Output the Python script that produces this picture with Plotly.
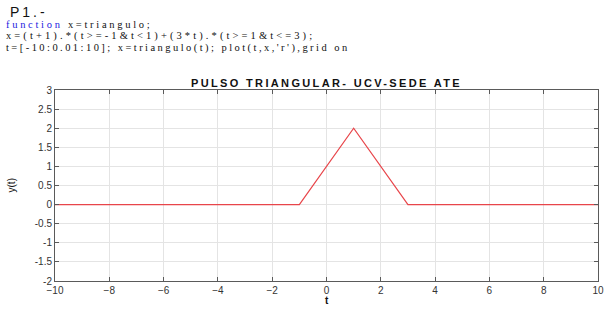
import plotly.graph_objects as go

# data
t_vals = [-10, -1, 1, 3, 10]
x_vals = [0, 0, 2, 0, 0]
x_ticks = [-10, -8, -6, -4, -2, 0, 2, 4, 6, 8, 10]
y_ticks = [-2, -1.5, -1, -0.5, 0, 0.5, 1, 1.5, 2, 2.5, 3]
y_tick_text = ["-2", "-1.5", "-1", "-0.5", "0", "0.5", "1", "1.5", "2", "2.5", "3"]

W, H = 610, 309
L, R, T, B = 55, 6, 90, 28
pw, ph = W - L - R, H - T - B

def px(x):
    return (x - L) / pw

def py(y):
    return (H - B - y) / ph

fig = go.Figure()
fig.add_trace(go.Scatter(x=t_vals, y=x_vals, mode="lines",
                         line=dict(color="#e8454a", width=1.2),
                         hoverinfo="skip", showlegend=False))

axis_common = dict(showline=True, mirror="ticks", linecolor="#5a5a5a", linewidth=1,
                   ticks="inside", ticklen=4, tickcolor="#5a5a5a",
                   showgrid=True, gridcolor="#e4e4e4", gridwidth=1,
                   zeroline=False,
                   tickfont=dict(family="Liberation Sans, Arial", size=10, color="#333"))

fig.update_xaxes(range=[-10, 10], tickvals=x_ticks, **axis_common)
fig.update_yaxes(range=[-2, 3], tickvals=y_ticks, ticktext=y_tick_text, **axis_common)

serif = "Liberation Serif, Times New Roman"
ann = []
ann.append(dict(text="<span style='letter-spacing:3px'>P1.-</span>", x=px(7), y=py(12),
                xanchor="left", yanchor="middle",
                font=dict(family="Liberation Sans, Arial", size=14, color="#111")))
ann.append(dict(text="<span style='letter-spacing:2.7px'><span style='color:#2020e0'>function</span> x=triangulo;</span>",
                x=px(3), y=py(24), xanchor="left", yanchor="middle",
                font=dict(family=serif, size=10.5, color="#111")))
ann.append(dict(text="<span style='letter-spacing:3.1px'>x=(t+1).*(t&gt;=-1&amp;t&lt;1)+(3*t).*(t&gt;=1&amp;t&lt;=3);</span>",
                x=px(3), y=py(36), xanchor="left", yanchor="middle",
                font=dict(family=serif, size=10.5, color="#111")))
ann.append(dict(text="<span style='letter-spacing:2.45px'>t=[-10:0.01:10]; x=triangulo(t); plot(t,x,'r'),grid on</span>",
                x=px(3), y=py(48), xanchor="left", yanchor="middle",
                font=dict(family=serif, size=10.5, color="#111")))
ann.append(dict(text="<b><span style='letter-spacing:2.35px'>PULSO TRIANGULAR- UCV-SEDE ATE</span></b>",
                x=0.5, y=py(83), xanchor="center", yanchor="middle",
                font=dict(family="Liberation Sans, Arial", size=11, color="#111")))
ann.append(dict(text="<b>t</b>", x=px(330), y=py(300), xanchor="center", yanchor="middle",
                font=dict(family="Liberation Sans, Arial", size=10, color="#111")))
ann.append(dict(text="y(t)", x=px(11), y=py(185), xanchor="center", yanchor="middle",
                textangle=-90,
                font=dict(family="Liberation Sans, Arial", size=10, color="#111")))
for a in ann:
    a.update(xref="paper", yref="paper", showarrow=False)

fig.update_layout(width=W, height=H, margin=dict(l=L, r=R, t=T, b=B),
                  paper_bgcolor="white", plot_bgcolor="white",
                  annotations=ann)

fig.write_html("out.html", config={"displayModeBar": False},
               post_script="document.body.style.margin='0';")
